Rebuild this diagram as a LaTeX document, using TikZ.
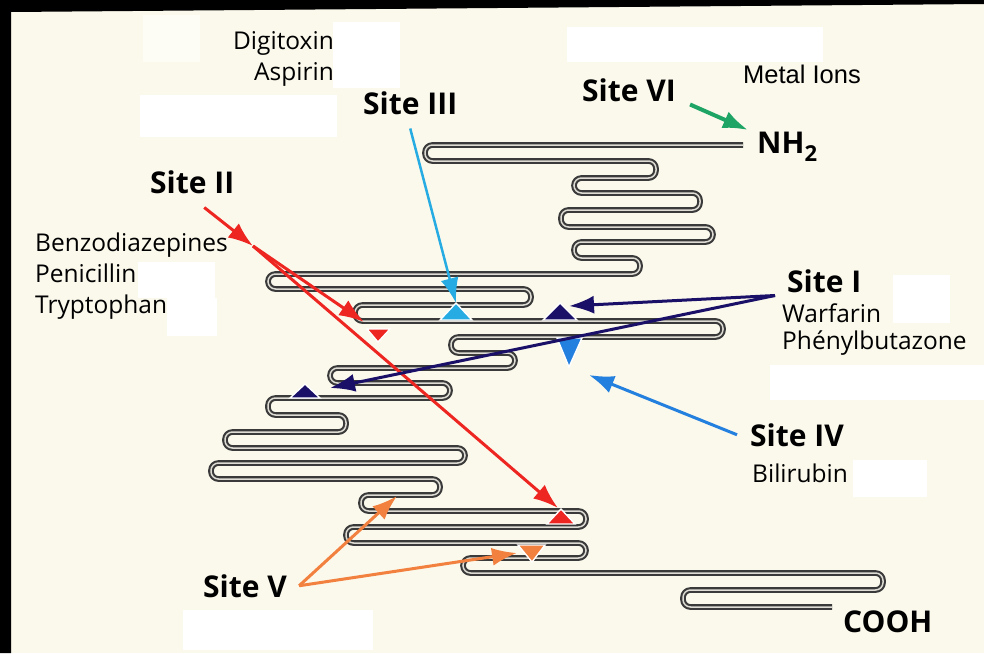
\documentclass[tikz,border=0pt]{standalone}
\usepackage{fontspec}
\setmainfont{Open Sans}
\newfontfamily\ionsfont{Liberation Sans}
\usetikzlibrary{arrows.meta}

\definecolor{paper}{RGB}{251,249,236}
\definecolor{chaindark}{RGB}{58,58,58}
\definecolor{chainlight}{RGB}{222,220,212}
\definecolor{siteIcol}{RGB}{26,16,104}
\definecolor{siteIIcol}{RGB}{238,38,34}
\definecolor{siteIIIcol}{RGB}{38,172,226}
\definecolor{siteIVcol}{RGB}{36,128,222}
\definecolor{siteVcol}{RGB}{242,128,62}
\definecolor{siteVIcol}{RGB}{30,164,100}

\begin{document}
\begin{tikzpicture}[x=1pt,y=-1pt,
		chain/.style={draw=chaindark, line width=2.1pt, double=chainlight, double distance=1.5pt, rounded corners=7.5pt},
		pointer/.style={line width=3pt, -{Latex[length=25pt,width=18pt]}},
		marker/.style={draw=white, line width=1.4pt},
		patch/.style={fill=white},
		sitelabel/.style={inner sep=0pt, font=\sitefont},
		druglabel/.style={inner sep=0pt, font=\drugfont}]
		\newcommand{\sitefont}{\fontsize{30}{36}\selectfont\bfseries}
		\newcommand{\drugfont}{\fontsize{24.5}{30}\selectfont}
		\useasboundingbox (0,0) rectangle (984,653);
		%Paper and the dark scan edge
		\fill[paper] (0,0) rectangle (984,653);
		\fill[black] (0,0) -- (984,0) -- (984,4) -- (11,12) -- (11,653) -- (0,653) -- cycle;
		%White patches
		\fill[patch, opacity=0.5] (143,15) rectangle (200,62);
		\fill[patch] (333,22) rectangle (400,88);
		\fill[patch] (140,95) rectangle (337,137);
		\fill[patch] (567,27) rectangle (823,62);
		\fill[patch] (138,262) rectangle (215,298);
		\fill[patch] (167,298) rectangle (217,336);
		\fill[patch] (893,275) rectangle (950,323);
		\fill[patch] (770,365) rectangle (984,400);
		\fill[patch] (853,460) rectangle (927,497);
		\fill[patch] (183,610) rectangle (373,650);
		%Ligands
		\node[druglabel, anchor=base east] (digitoxin) at (334,49) {Digitoxin};
		\node[druglabel, anchor=base east] (aspirin) at (334,80) {Aspirin};
		\node[druglabel, anchor=base west] (benzo) at (35,251) {Benzodiazepines};
		\node[druglabel, anchor=base west] (penicillin) at (35,282) {Penicillin};
		\node[druglabel, anchor=base west] (tryptophan) at (35,313) {Tryptophan};
		\node[druglabel, anchor=base west] (warfarin) at (782,322) {Warfarin};
		\node[druglabel, anchor=base west] (phenyl) at (782,349) {Phénylbutazone};
		\node[druglabel, anchor=base west] (bilirubin) at (752,482) {Bilirubin};
		\node[inner sep=0pt, anchor=base west, font=\ionsfont\fontsize{25.5}{30}\selectfont] (metal) at (743,83) {Metal Ions};
		%Sites
		\node[sitelabel, anchor=base west] (siteIII) at (363,114) {Site III};
		\node[sitelabel, anchor=base west] (siteII) at (150,193) {Site II};
		\node[sitelabel, anchor=base west] (siteVI) at (582,101) {Site VI};
		\node[sitelabel, anchor=base west] (siteI) at (787,292) {Site I};
		\node[sitelabel, anchor=base west] (siteIV) at (750,446) {Site IV};
		\node[sitelabel, anchor=base west] (siteV) at (203,597) {Site V};
		%Ends of the chain
		\node[sitelabel, anchor=base west] (nterm) at (757,153) {NH\raisebox{-0.28em}{\fontsize{22}{22}\selectfont 2}};
		\node[sitelabel, anchor=base west] (cterm) at (843,632) {COOH};
		%The folded chain, NH2 end to COOH end
		\draw[chain] (743,145) -- (425,145) -- (425,161) -- (656,161) -- (656,178)
			-- (574,178) -- (574,193) -- (700,193) -- (700,210)
			-- (561,210) -- (561,227) -- (713,227) -- (713,242)
			-- (574,242) -- (574,258) -- (640,258) -- (640,274)
			-- (268,274) -- (268,289) -- (531,289) -- (531,305)
			-- (355,305) -- (355,321) -- (723,321) -- (723,337)
			-- (451,337) -- (451,353) -- (515,353) -- (515,368)
			-- (330,368) -- (330,383) -- (450,383) -- (450,398)
			-- (268,398) -- (268,415) -- (346,415) -- (346,432)
			-- (225,432) -- (225,448) -- (465,448) -- (465,463)
			-- (211,463) -- (211,479) -- (440,479) -- (440,495)
			-- (361,495) -- (361,511) -- (586,511) -- (586,527)
			-- (346,527) -- (346,543) -- (586,543) -- (586,558)
			-- (463,558) -- (463,573) -- (883,573) -- (883,590)
			-- (683,590) -- (683,607) -- (832,607);
		%Binding markers on the chain
		\coordinate (IIItip) at (456,303);
		\filldraw[marker, fill=siteIIIcol] (440,320) -- (472,320) -- (IIItip) -- cycle;
		\coordinate (Iatip) at (560,303);
		\filldraw[marker, fill=siteIcol] (543,320) -- (577,320) -- (Iatip) -- cycle;
		\coordinate (Ibtip) at (305,384);
		\filldraw[marker, fill=siteIcol] (290,398) -- (320,398) -- (Ibtip) -- cycle;
		\coordinate (IVtip) at (569,367);
		\filldraw[marker, fill=siteIVcol] (557,338) -- (582,338) -- (IVtip) -- cycle;
		\coordinate (IIatip) at (378,342);
		\filldraw[marker, fill=siteIIcol] (367,329) -- (390,329) -- (IIatip) -- cycle;
		\coordinate (IIbtip) at (561,509);
		\filldraw[marker, fill=siteIIcol] (547,524) -- (575,524) -- (IIbtip) -- cycle;
		\coordinate (Vtip) at (532,562);
		\filldraw[marker, fill=siteVcol] (518,545) -- (545,545) -- (Vtip) -- cycle;
		%Arrow ends
		\coordinate (IIfork) at (253,246);
		\coordinate (IIaend) at (364,322);
		\coordinate (IIbend) at (558,508);
		\coordinate (Iaend) at (569,306);
		\coordinate (Ibend) at (330,388);
		\coordinate (IVend) at (589,375);
		\coordinate (Vaend) at (397,496);
		\coordinate (Vbend) at (517,553);
		\coordinate (VIend) at (748,130);
		%Arrows from the sites
		\draw[pointer, siteIIIcol, line width=2.5pt] ([yshift=-14pt]siteIII.south) -- (IIItip);
		\draw[pointer, siteIIcol] ([xshift=12pt,yshift=-14pt]siteII.south) -- (IIfork);
		\draw[pointer, siteIIcol] (IIfork) -- (IIaend);
		\draw[pointer, siteIIcol] (IIfork) -- (IIbend);
		\draw[pointer, siteIcol] ([xshift=-12pt,yshift=-3pt]siteI.south west) -- (Iaend);
		\draw[pointer, siteIcol] ([xshift=-12pt,yshift=-3pt]siteI.south west) -- (Ibend);
		\draw[pointer, siteIVcol] ([xshift=-13pt]siteIV.west) -- (IVend);
		\draw[pointer, siteVcol] ([xshift=12pt]siteV.east) -- (Vaend);
		\draw[pointer, siteVcol] ([xshift=12pt]siteV.east) -- (Vbend);
		\draw[pointer, siteVIcol, line width=4pt] ([xshift=14pt,yshift=-3pt]siteVI.south east) -- (VIend);
\end{tikzpicture}
\end{document}
